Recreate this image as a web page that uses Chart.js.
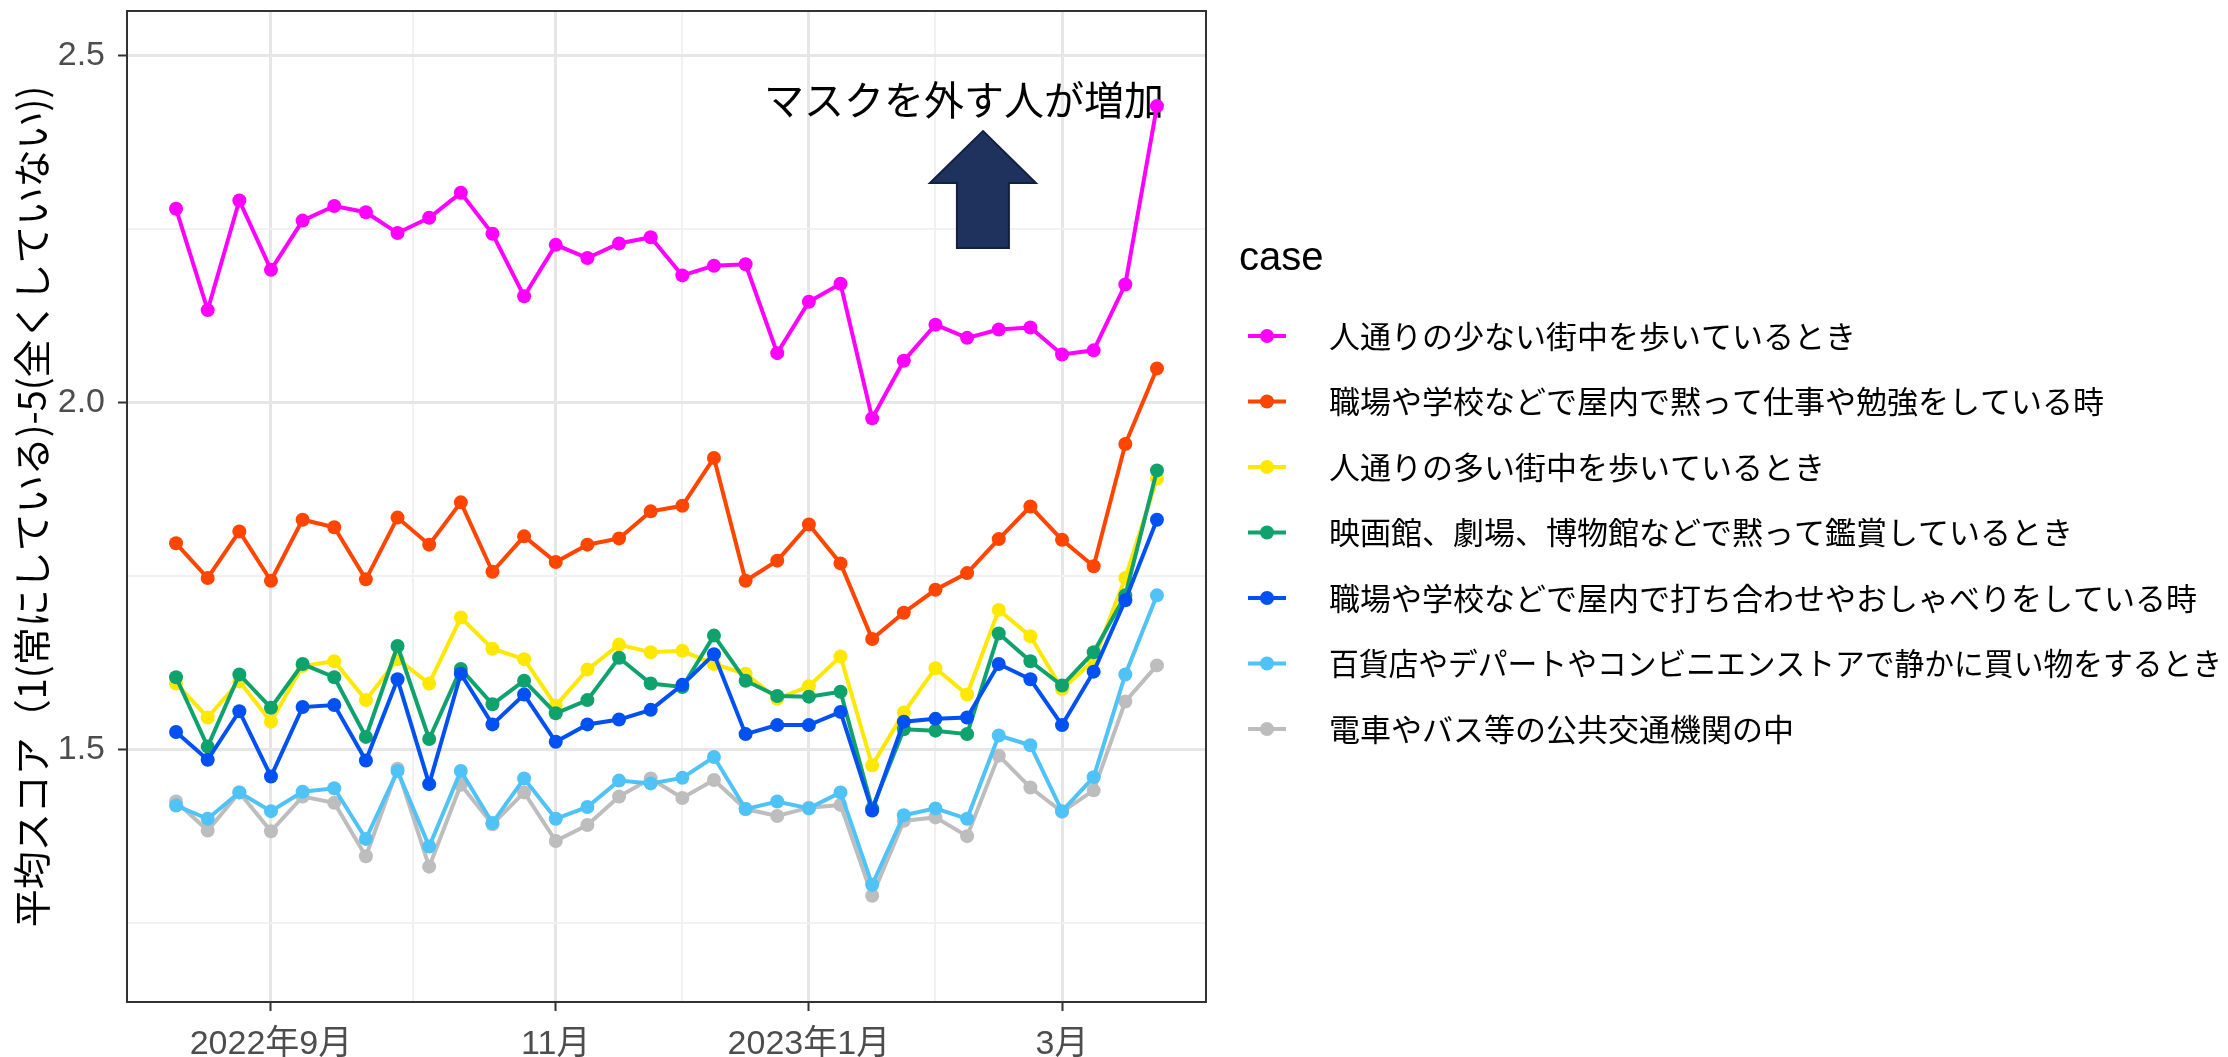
<!DOCTYPE html>
<html lang="ja">
<head>
<meta charset="utf-8">
<title>マスク着用スコアの推移</title>
<script src="https://cdn.jsdelivr.net/npm/chart.js@4.4.1/dist/chart.umd.min.js"></script>
<style>
  html, body { margin: 0; padding: 0; background: #ffffff; }
  #wrap { position: relative; width: 2228px; height: 1057px; }
</style>
</head>
<body>
<div id="wrap"><canvas id="maskChart"></canvas></div>
<script>
// ---- data ----
// survey rounds, evenly spaced on the x axis
const rounds = [0, 1, 2, 3, 4, 5, 6, 7, 8, 9, 10, 11, 12, 13, 14, 15,
                16, 17, 18, 19, 20, 21, 22, 23, 24, 25, 26, 27, 28, 29, 30, 31];

const caseNames = [
  '人通りの少ない街中を歩いているとき',
  '職場や学校などで屋内で黙って仕事や勉強をしている時',
  '人通りの多い街中を歩いているとき',
  '映画館、劇場、博物館などで黙って鑑賞しているとき',
  '職場や学校などで屋内で打ち合わせやおしゃべりをしている時',
  '百貨店やデパートやコンビニエンストアで静かに買い物をするとき',
  '電車やバス等の公共交通機関の中'
];

const quietStreet = [2.279, 2.133, 2.291, 2.191, 2.262, 2.283, 2.274, 2.244, 2.266, 2.302, 2.243,
                     2.153, 2.227, 2.208, 2.229, 2.238, 2.183, 2.197, 2.199, 2.071, 2.145, 2.171,
                     1.977, 2.060, 2.112, 2.093, 2.105, 2.108, 2.069, 2.075, 2.170, 2.427];
const silentWork = [1.797, 1.747, 1.814, 1.743, 1.831, 1.820, 1.745, 1.834, 1.795, 1.856, 1.756,
                    1.807, 1.770, 1.795, 1.804, 1.843, 1.851, 1.920, 1.743, 1.772, 1.824, 1.768,
                    1.659, 1.697, 1.730, 1.754, 1.803, 1.850, 1.802, 1.764, 1.940, 2.049];
const busyStreet = [1.595, 1.546, 1.598, 1.540, 1.620, 1.627, 1.571, 1.630, 1.595, 1.690, 1.645,
                    1.630, 1.563, 1.615, 1.651, 1.640, 1.642, 1.623, 1.609, 1.573, 1.591, 1.634,
                    1.477, 1.553, 1.617, 1.579, 1.701, 1.663, 1.587, 1.628, 1.747, 1.890];
const theater = [1.604, 1.504, 1.608, 1.560, 1.623, 1.604, 1.518, 1.649, 1.515, 1.616, 1.565,
                 1.599, 1.552, 1.571, 1.632, 1.595, 1.590, 1.664, 1.599, 1.577, 1.576, 1.583,
                 1.415, 1.529, 1.527, 1.522, 1.667, 1.627, 1.592, 1.640, 1.722, 1.902];
const talkingWork = [1.525, 1.485, 1.555, 1.461, 1.561, 1.564, 1.484, 1.601, 1.450, 1.609, 1.536,
                     1.579, 1.511, 1.536, 1.543, 1.557, 1.593, 1.637, 1.522, 1.535, 1.535, 1.554,
                     1.412, 1.540, 1.544, 1.546, 1.623, 1.601, 1.535, 1.612, 1.715, 1.831];
const shopping = [1.419, 1.400, 1.438, 1.411, 1.439, 1.444, 1.371, 1.469, 1.360, 1.469, 1.394,
                  1.458, 1.400, 1.417, 1.455, 1.451, 1.459, 1.489, 1.414, 1.425, 1.415, 1.438,
                  1.305, 1.405, 1.415, 1.400, 1.520, 1.506, 1.411, 1.460, 1.608, 1.722];
const transit = [1.425, 1.383, 1.438, 1.382, 1.432, 1.423, 1.346, 1.472, 1.331, 1.449, 1.392,
                 1.438, 1.368, 1.391, 1.432, 1.458, 1.430, 1.456, 1.414, 1.404, 1.416, 1.420,
                 1.289, 1.397, 1.402, 1.375, 1.491, 1.445, 1.410, 1.441, 1.569, 1.621];

const caseSeries = [quietStreet, silentWork, busyStreet, theater, talkingWork, shopping, transit];
const caseColors = ['#FF00FF', '#FF4500', '#FFE800', '#10A26C', '#0050F2', '#4FC3F7', '#BDBDBD'];

// axis ticks (in round units / score units)
const xTickPositions = [3, 12, 20, 28];
const xTickLabels = ['2022年9月', '11月', '2023年1月', '3月'];
const xMinorPositions = [7.5, 16, 24];
const yTickValues = [1.5, 2.0, 2.5];
const yTickLabels = ['1.5', '2.0', '2.5'];
const yMinorValues = [1.25, 1.75, 2.25];

const yAxisTitle = '平均スコア（1(常にしている)-5(全くしていない))';
const legendTitle = 'case';
const noteText = 'マスクを外す人が増加';
const noteAnchor = { x: 24.9, y: 2.436 };
const arrowTip = { x: 25.5, y: 2.391 };

// Chart.js puts the first dataset on top, so list them top-most first
const drawOrder = [5, 6, 4, 3, 2, 1, 0];

// ---- helpers ----
const TICK_FONT = '"Liberation Sans", "Noto Sans CJK JP", sans-serif';
const CJK_FONT = '"Noto Sans CJK JP", sans-serif';

function isMajorX(v) { return xTickPositions.indexOf(v) >= 0; }
function isMajorY(v) { return yTickValues.indexOf(v) >= 0; }

function gridColor(ctx, major) {
  if (!ctx.tick) return 'rgba(0,0,0,0)';
  return major(ctx.tick.value) ? '#E6E6E6' : '#F1F1F1';
}

const datasets = drawOrder.map(i => ({
  label: caseNames[i],
  data: rounds.map((r, j) => ({ x: r, y: caseSeries[i][j] })),
  borderColor: caseColors[i],
  backgroundColor: caseColors[i],
  borderWidth: 4,
  pointRadius: 7,
  pointBorderWidth: 0,
  pointHoverRadius: 7,
  tension: 0,
  fill: false
}));

// panel border, like theme_bw
const panelBorder = {
  id: 'panelBorder',
  afterDraw(chart) {
    const { ctx, chartArea: a } = chart;
    ctx.save();
    ctx.strokeStyle = '#333333';
    ctx.lineWidth = 2;
    ctx.strokeRect(a.left, a.top, a.right - a.left, a.bottom - a.top);
    ctx.restore();
  }
};

// text + arrow note inside the panel
const maskNote = {
  id: 'maskNote',
  beforeDatasetsDraw(chart) {
    const { ctx, scales } = chart;
    const tx = scales.x.getPixelForValue(arrowTip.x);
    const ty = scales.y.getPixelForValue(arrowTip.y);
    ctx.save();
    ctx.beginPath();
    ctx.moveTo(tx, ty);
    ctx.lineTo(tx + 53, ty + 52);
    ctx.lineTo(tx + 26, ty + 52);
    ctx.lineTo(tx + 26, ty + 117);
    ctx.lineTo(tx - 26, ty + 117);
    ctx.lineTo(tx - 26, ty + 52);
    ctx.lineTo(tx - 53, ty + 52);
    ctx.closePath();
    ctx.fillStyle = '#1F325E';
    ctx.fill();
    ctx.strokeStyle = '#13203F';
    ctx.lineWidth = 2;
    ctx.stroke();

    ctx.fillStyle = '#000000';
    ctx.font = '40px ' + CJK_FONT;
    ctx.textAlign = 'center';
    ctx.textBaseline = 'middle';
    ctx.fillText(noteText, scales.x.getPixelForValue(noteAnchor.x), scales.y.getPixelForValue(noteAnchor.y));
    ctx.restore();
  }
};

// ggplot style legend at the right
const caseLegend = {
  id: 'caseLegend',
  afterDraw(chart) {
    const ctx = chart.ctx;
    const left = chart.chartArea.right;
    const textX = left + 123;
    ctx.save();
    ctx.textAlign = 'left';
    ctx.textBaseline = 'middle';
    ctx.fillStyle = '#000000';
    ctx.font = '40px "Liberation Sans", sans-serif';
    ctx.fillText(legendTitle, left + 33, 259);
    ctx.font = '31px ' + CJK_FONT;
    caseNames.forEach((name, i) => {
      const y = 336 + i * 65.5;
      ctx.strokeStyle = caseColors[i];
      ctx.lineWidth = 4;
      ctx.beginPath();
      ctx.moveTo(left + 42, y);
      ctx.lineTo(left + 80, y);
      ctx.stroke();
      ctx.fillStyle = caseColors[i];
      ctx.beginPath();
      ctx.arc(left + 61, y, 7, 0, Math.PI * 2);
      ctx.fill();
      ctx.fillStyle = '#000000';
      // squeeze only if a label would run off the canvas
      ctx.fillText(name, textX, y, chart.width - textX - 6);
    });
    ctx.restore();
  }
};

const ctx = document.getElementById('maskChart').getContext('2d');
new Chart(ctx, {
  type: 'line',
  data: { datasets: datasets },
  options: {
    responsive: true,
    maintainAspectRatio: false,
    animation: false,
    events: [],
    layout: { padding: { top: 11, right: 1022, bottom: 0, left: 0 } },
    plugins: {
      legend: { display: false },
      tooltip: { enabled: false }
    },
    scales: {
      x: {
        type: 'linear',
        min: -1.55,
        max: 32.55,
        afterBuildTicks: s => {
          s.ticks = xTickPositions.concat(xMinorPositions).sort((a, b) => a - b).map(v => ({ value: v }));
        },
        afterFit: s => {
          s.height = 55;
          s.paddingLeft = 0;
          s.paddingRight = 0;
        },
        ticks: {
          autoSkip: false,
          maxRotation: 0,
          padding: 13,
          color: '#4D4D4D',
          font: { family: TICK_FONT, size: 34 },
          callback: v => {
            const k = xTickPositions.indexOf(v);
            return k >= 0 ? xTickLabels[k] : '';
          }
        },
        grid: {
          color: c => gridColor(c, isMajorX),
          lineWidth: c => (c.tick && isMajorX(c.tick.value)) ? 3 : 2,
          tickColor: c => (c.tick && isMajorX(c.tick.value)) ? '#333333' : 'rgba(0,0,0,0)',
          tickLength: 9,
          tickWidth: 2
        },
        border: { display: false }
      },
      y: {
        type: 'linear',
        min: 1.136,
        max: 2.564,
        afterBuildTicks: s => {
          s.ticks = yMinorValues.concat(yTickValues).sort((a, b) => a - b).map(v => ({ value: v }));
        },
        afterFit: s => {
          s.width = 127;
          s.paddingTop = 0;
          s.paddingBottom = 0;
        },
        ticks: {
          padding: 13,
          color: '#4D4D4D',
          font: { family: TICK_FONT, size: 34 },
          callback: v => {
            const k = yTickValues.indexOf(v);
            return k >= 0 ? yTickLabels[k] : '';
          }
        },
        grid: {
          color: c => gridColor(c, isMajorY),
          lineWidth: c => (c.tick && isMajorY(c.tick.value)) ? 3 : 2,
          tickColor: c => (c.tick && isMajorY(c.tick.value)) ? '#333333' : 'rgba(0,0,0,0)',
          tickLength: 9,
          tickWidth: 2
        },
        border: { display: false },
        title: {
          display: true,
          text: yAxisTitle,
          color: '#000000',
          font: { family: CJK_FONT, size: 38 },
          padding: { top: 9, bottom: 0 }
        }
      }
    }
  },
  plugins: [panelBorder, maskNote, caseLegend]
});
</script>
</body>
</html>
